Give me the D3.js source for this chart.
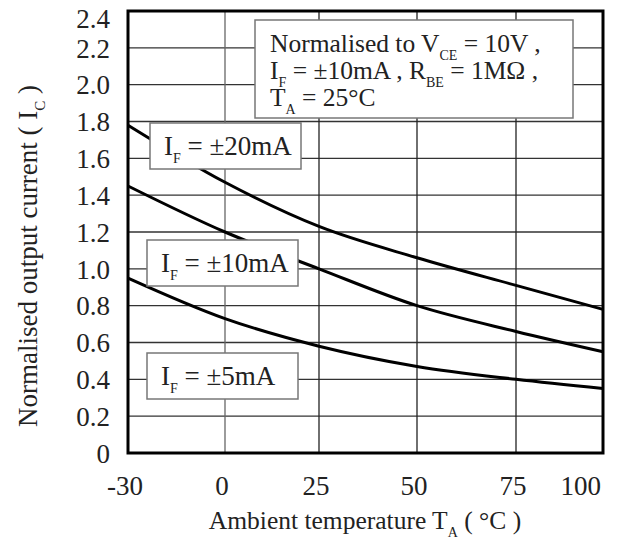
<!DOCTYPE html>
<html>
<head>
<meta charset="utf-8">
<script src="https://cdn.jsdelivr.net/npm/d3@7"></script>
<style>
  body { margin: 0; background: #fff; }
  text { font-family: "Liberation Serif", "Times New Roman", serif; fill: #222; }
</style>
</head>
<body>
<script>
// temperature points (°C)
const temps = [-30, 0, 25, 50, 75, 100];
// normalised output current for each forward current
const if20 = [1.78, 1.47, 1.23, 1.06, 0.91, 0.78];
const if10 = [1.45, 1.20, 1.00, 0.80, 0.66, 0.55];
const if5 = [0.95, 0.73, 0.58, 0.47, 0.40, 0.35];
const xTicks = [-30, 0, 25, 50, 75, 100];
const yTicks = [0, 0.2, 0.4, 0.6, 0.8, 1.0, 1.2, 1.4, 1.6, 1.8, 2.0, 2.2, 2.4];
const seriesNames = ["±20mA", "±10mA", "±5mA"];

const width = 633, height = 544;

const svg = d3.select("body").append("svg")
  .attr("width", width)
  .attr("height", height);

// the printed axis is not quite even, so follow the grid positions of the sheet
const x = d3.scaleLinear()
  .domain([-30, 0, 25, 50, 75, 100])
  .range([128, 225, 319, 417, 516, 603]);

const y = d3.scaleLinear()
  .domain([0, 2.4])
  .range([453, 11]);

// grid
svg.append("g")
  .selectAll("line")
  .data(yTicks.slice(1, -1))
  .enter().append("line")
  .attr("x1", x(-30)).attr("x2", x(100))
  .attr("y1", d => y(d)).attr("y2", d => y(d))
  .attr("stroke", "#333").attr("stroke-width", 1.3);

svg.append("g")
  .selectAll("line")
  .data(xTicks.slice(1, -1))
  .enter().append("line")
  .attr("y1", y(0)).attr("y2", y(2.4))
  .attr("x1", d => x(d)).attr("x2", d => x(d))
  .attr("stroke", (d) => d == 0 ? "#666" : "#222")
  .attr("stroke-width", 1.3);

// curves
const line = d3.line()
  .x((d, i) => x(temps[i]))
  .y(d => y(d))
  .curve(d3.curveMonotoneX);

[if20, if10, if5].forEach(s => {
  svg.append("path")
    .attr("d", line(s))
    .attr("fill", "none")
    .attr("stroke", "#000")
    .attr("stroke-width", 3);
});

// frame
svg.append("rect")
  .attr("x", x(-30)).attr("y", y(2.4))
  .attr("width", x(100) - x(-30))
  .attr("height", y(0) - y(2.4))
  .attr("fill", "none")
  .attr("stroke", "#000")
  .attr("stroke-width", 3);

// tick labels
svg.append("g")
  .selectAll("text")
  .data(yTicks)
  .enter().append("text")
  .attr("x", 110)
  .attr("y", d => Math.max(y(d), 18))
  .attr("dy", "0.36em")
  .attr("text-anchor", "end")
  .style("font-size", "27px")
  .text(d => d == 0 ? "0" : d3.format(".1f")(d));

svg.append("g")
  .selectAll("text")
  .data(xTicks)
  .enter().append("text")
  .attr("x", (d, i) => i == xTicks.length - 1 ? x(d) - 2 : x(d) - 3)
  .attr("y", 495)
  .attr("text-anchor", (d, i) => i == xTicks.length - 1 ? "end" : "middle")
  .style("font-size", "27px")
  .text(d => d);

// axis titles
const xt = svg.append("text")
  .attr("x", 365).attr("y", 529)
  .attr("text-anchor", "middle")
  .style("font-size", "25.5px");
xt.append("tspan").text("Ambient temperature T");
xt.append("tspan").attr("dy", 8).style("font-size", "14px").text("A");
xt.append("tspan").attr("dy", -8).text(" ( °C )");

const yt = svg.append("text")
  .attr("transform", "translate(37,256) rotate(-90)")
  .attr("text-anchor", "middle")
  .style("font-size", "27px");
yt.append("tspan").text("Normalised output current ( I");
yt.append("tspan").attr("dy", 8).style("font-size", "15px").text("C");
yt.append("tspan").attr("dy", -8).text(" )");

// series labels
const labelBoxes = [
  {name: seriesNames[0], x0: 150, y0: 123},
  {name: seriesNames[1], x0: 147, y0: 240},
  {name: seriesNames[2], x0: 147, y0: 353}
];

labelBoxes.forEach(b => {
  const g = svg.append("g").attr("transform", `translate(${b.x0},${b.y0})`);
  g.append("rect")
    .attr("width", 151).attr("height", 46)
    .attr("fill", "#fff")
    .attr("stroke", "#777")
    .attr("stroke-width", 1.5);
  const t = g.append("text")
    .attr("x", 14).attr("y", 32)
    .style("font-size", "27px");
  t.append("tspan").text("I");
  t.append("tspan").attr("dy", 8).style("font-size", "14px").text("F");
  t.append("tspan").attr("dy", -8).text(" = " + b.name);
});

// conditions note
const note = svg.append("g").attr("transform", "translate(255,20)");
note.append("rect")
  .attr("width", 318).attr("height", 98)
  .attr("fill", "#fff")
  .attr("stroke", "#777")
  .attr("stroke-width", 1.5);

const noteLines = [
  [["Normalised to V", 0], ["CE", 1], [" = 10V ,", 0]],
  [["I", 0], ["F", 1], [" = ±10mA , R", 0], ["BE", 1], [" = 1MΩ ,", 0]],
  [["T", 0], ["A", 1], [" = 25°C", 0]]
];

noteLines.forEach((parts, i) => {
  const t = note.append("text")
    .attr("x", 15).attr("y", 32 + i * 27)
    .style("font-size", "25.5px");
  let low = 0;
  parts.forEach(p => {
    const shift = p[1] ? 8 : 0;
    t.append("tspan")
      .attr("dy", shift - low)
      .style("font-size", p[1] ? "14px" : "25.5px")
      .text(p[0]);
    low = shift;
  });
});
</script>
</body>
</html>
